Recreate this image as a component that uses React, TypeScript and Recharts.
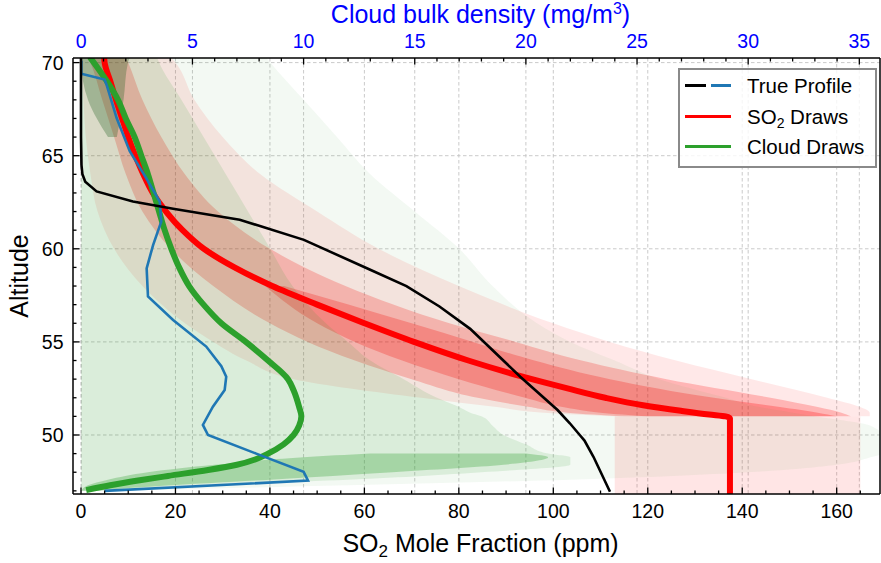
import React from 'react';
import { ComposedChart, Line, Area, XAxis, YAxis, CartesianGrid } from 'recharts';

const FONT = "'Liberation Sans', Arial, Helvetica, sans-serif";

// ticks
const so2Ticks = [0, 5, 10, 15, 20, 25, 30, 35, 40, 45, 50, 55, 60, 65, 70, 75, 80, 85, 90, 95, 100, 105, 110, 115, 120, 125, 130, 135, 140, 145, 150, 155, 160, 165];
const so2Labels = [0, 20, 40, 60, 80, 100, 120, 140, 160];
const cloudTicks = [0, 1, 2, 3, 4, 5, 6, 7, 8, 9, 10, 11, 12, 13, 14, 15, 16, 17, 18, 19, 20, 21, 22, 23, 24, 25, 26, 27, 28, 29, 30, 31, 32, 33, 34, 35];
const cloudLabels = [0, 5, 10, 15, 20, 25, 30, 35];
const altTicks = [47, 48, 49, 50, 51, 52, 53, 54, 55, 56, 57, 58, 59, 60, 61, 62, 63, 64, 65, 66, 67, 68, 69, 70];
const altLabels = [50, 55, 60, 65, 70];

// true SO2 profile (ppm)
const trueSo2Alt = [70.3, 66, 64.5, 64.0, 63.6, 63.08, 62.54, 62.15, 61.56, 60.48, 58.9, 58.0, 56.9, 55.7, 53.13, 51.34, 50.63, 50.0, 49.7, 48.83, 46.95];
const trueSo2 = [0, 0, 0.1, 0.3, 0.9, 3.3, 11, 19.5, 33.6, 47.2, 61, 68.9, 75.9, 82.4, 93, 100.9, 103.5, 105.6, 106.6, 108.5, 112];

// true cloud profile (mg/m3)
const trueCloudAlt = [70.1, 69.4, 69.09, 68.8, 67.02, 65.24, 63.8, 62.54, 61.47, 60.2, 58.95, 57.44, 56.18, 54.75, 53.7, 53.13, 52.42, 51.52, 50.54, 50.0, 49.0, 48.03, 47.55, 47.0];
const trueCloud = [0, 0, 1.05, 1.14, 1.59, 2.18, 2.92, 3.53, 3.6, 3.23, 2.94, 3.0, 4.13, 5.62, 6.3, 6.52, 6.45, 5.92, 5.47, 5.7, 7.87, 10.0, 10.2, 1.05];

// median of SO2 draws
const so2MedAlt = [70.3, 70, 69, 68, 67, 66, 65, 64, 63, 62, 61, 60, 59, 58, 57, 56, 55, 54, 53.13, 52.5, 52.0, 51.6, 51.3, 51.1, 51.0, 50.9, 46.7];
const so2Med = [4.9, 5.0, 6.2, 7.4, 8.7, 10.0, 11.5, 13.2, 15.2, 18.0, 21.5, 26.0, 32.5, 40.5, 50.0, 60.0, 70.5, 82.0, 93.5, 103, 111, 119, 127, 133, 136.5, 137.4, 137.4];

// median of cloud draws
const cloudMedAlt = [70.3, 69, 68, 67, 66, 65, 64, 63, 62, 61, 60, 59, 58, 57, 56, 55, 54, 53, 52.4, 51.5, 51.0, 50.5, 50.0, 49.5, 49.0, 48.7, 48.4, 48.12, 47.8, 47.58, 47.3, 47.04];
const cloudMed = [0.38, 1.15, 1.65, 2.0, 2.4, 2.7, 3.0, 3.25, 3.5, 3.75, 4.05, 4.4, 4.85, 5.5, 6.3, 7.4, 8.4, 9.3, 9.55, 9.8, 9.9, 9.8, 9.55, 9.1, 8.4, 7.85, 7.0, 5.7, 3.9, 2.7, 1.3, 0.22];

// envelopes of the draws, read at these altitudes
const bandAlt = [46.7, 47.0, 47.3, 47.6, 48.0, 48.4, 48.8, 49.0, 49.5, 50.0, 50.5, 51.0, 51.2, 51.5, 52, 53, 54, 55, 56, 58, 60, 62, 64, 66, 68, 70, 70.3];
const N = null;
const redFanLo = [N, N, N, N, N, N, N, N, N, N, N, 113, 98, 88, 72, 45, 35, 28, 22, 13, 7, 3.5, 2, 1, 0.5, 0, 0];
const redFanHi = [N, N, N, N, N, N, N, N, N, N, N, 167, 167, 165, 158, 142, 126, 112, 100, 80, 63, 50, 38, 30, 24, 20, 19];
const redCoreLo = [N, N, N, N, N, N, N, N, N, N, N, 115, 103, 95, 84, 70, 58, 48, 40, 28, 19, 13, 9.5, 7, 4.5, 2, 1.5];
const redCoreHi = [N, N, N, N, N, N, N, N, N, N, N, 163, 161, 156, 146, 124, 106, 92, 78, 56, 40, 29, 22, 17, 13, 10, 9.5];
const redInnerLo = [N, N, N, N, N, N, N, N, N, N, N, 120, 110, 102, 94, 80, 68, 58, 50, 39, N, N, N, N, N, N, N];
const redInnerHi = [N, N, N, N, N, N, N, N, N, N, N, 160, 156, 148, 134, 112, 96, 83, 70, 43, N, N, N, N, N, N, N];
const redDropLo = [113, 113, 113, 113, 113, 113, 113, 113, 113, 113, 113, 113, N, N, N, N, N, N, N, N, N, N, N, N, N, N, N];
const redDropHi = [165, 165, 165, 165, 165, 165, 165, 165, 165, 165, 165, 165, N, N, N, N, N, N, N, N, N, N, N, N, N, N, N];
const greenOuterHi = [N, 1, 12, 22, 30, 34, 35.5, 36, 36, 36, 35.5, 33, 32, 30.5, 29, 26, 24, 22, 20.5, 18.5, 17, 15, 13, 11.5, 10, 8.5, 8.3];
const greenMidHi = [N, 0.8, 5, 12, 18, 22, 22, 21, 20, 19, 18.5, 18, 17.5, 17, 16, 14.5, 13, 12, 11, 9.5, 8.5, 7.5, 6.5, 5.5, 4.5, 3.5, 3.4];
const greenSheetLo = [N, 0, 0.3, 1.2, 3, 6, 10, 13, N, N, N, N, N, N, N, N, N, N, N, N, N, N, N, N, N, N, N];
const greenSheetHi = [N, 0.5, 4, 8.5, 14, 19, 21, 20, N, N, N, N, N, N, N, N, N, N, N, N, N, N, N, N, N, N, N];
const greenTopLo = [N, N, N, N, N, N, N, N, N, N, N, N, N, N, N, N, N, N, N, N, N, N, N, 1.2, 0.3, 0, 0];
const greenTopHi = [N, N, N, N, N, N, N, N, N, N, N, N, N, N, N, N, N, N, N, N, N, N, N, 1.6, 1.9, 2.1, 2.2];

const pair = (lo: number | null, hi: number | null) => (lo == null || hi == null ? null : [lo, hi]);

const bandData = bandAlt.map((alt, i) => ({
  alt,
  redFan: pair(redFanLo[i], redFanHi[i]),
  redCore: pair(redCoreLo[i], redCoreHi[i]),
  redInner: pair(redInnerLo[i], redInnerHi[i]),
  redDrop: pair(redDropLo[i], redDropHi[i]),
  greenOuter: pair(greenOuterHi[i] == null ? null : 0, greenOuterHi[i]),
  greenMid: pair(greenMidHi[i] == null ? null : 0, greenMidHi[i]),
  greenSheet: pair(greenSheetLo[i], greenSheetHi[i]),
  greenTop: pair(greenTopLo[i], greenTopHi[i]),
}));

const toRows = (alts: number[], vals: number[], key: string) => alts.map((alt, i) => ({ alt, [key]: vals[i] }));
const trueSo2Data = toRows(trueSo2Alt, trueSo2, 'so2');
const trueCloudData = toRows(trueCloudAlt, trueCloud, 'cloud');
const so2MedData = toRows(so2MedAlt, so2Med, 'so2');
const cloudMedData = toRows(cloudMedAlt, cloudMed, 'cloud');

const MAJOR = 6.5;
const MINOR = 3.5;

function BottomTick({ x, y, payload }: any) {
  const major = so2Labels.includes(payload.value);
  return (
    <g>
      <line x1={x} x2={x} y1={y} y2={y - (major ? MAJOR : MINOR)} stroke="#000" strokeWidth={1.3} />
      {major && (
        <text x={x} y={y + 24.3} textAnchor="middle" fontSize={19.5} fontFamily={FONT} fill="#000">
          {payload.value}
        </text>
      )}
    </g>
  );
}

function TopTick({ x, y, payload }: any) {
  const major = cloudLabels.includes(payload.value);
  return (
    <g>
      <line x1={x} x2={x} y1={y} y2={y + (major ? MAJOR : MINOR)} stroke="#000" strokeWidth={1.3} />
      {major && (
        <text x={x} y={y - 10.3} textAnchor="middle" fontSize={19.5} fontFamily={FONT} fill="#0000ff">
          {payload.value}
        </text>
      )}
    </g>
  );
}

function LeftTick({ x, y, payload }: any) {
  const major = altLabels.includes(payload.value);
  return (
    <g>
      <line x1={x} x2={x + (major ? MAJOR : MINOR)} y1={y} y2={y} stroke="#000" strokeWidth={1.3} />
      {major && (
        <text x={x - 9.5} y={y + 7} textAnchor="end" fontSize={19.5} fontFamily={FONT} fill="#000">
          {payload.value}
        </text>
      )}
    </g>
  );
}

const scaleOf = (axis: any) => (v: number) => {
  const s = axis?.scale;
  if (!s) return NaN;
  return typeof s === 'function' ? s(v) : s.map(v);
};

function BottomTitle({ viewBox }: any) {
  const { x, y, width } = viewBox;
  return (
    <text x={x + width / 2 + 4} y={y + 57.7} textAnchor="middle" fontSize={25} fontFamily={FONT} fill="#000">
      SO<tspan fontSize={17} dy={5}>2</tspan>
      <tspan dy={-5}> Mole Fraction (ppm)</tspan>
    </text>
  );
}

function TopTitle({ viewBox }: any) {
  const { x, y, width, height } = viewBox;
  return (
    <text x={x + width / 2 + 4} y={y + height - 35.3} textAnchor="middle" fontSize={25} fontFamily={FONT} fill="#0000ff">
      Cloud bulk density (mg/m<tspan fontSize={16} dy={-9}>3</tspan>
      <tspan dy={9}>)</tspan>
    </text>
  );
}

function LeftTitle({ viewBox }: any) {
  const { y, height } = viewBox;
  const cy = y + height / 2;
  return (
    <text transform={`translate(28, ${cy}) rotate(-90)`} textAnchor="middle" fontSize={25} fontFamily={FONT} fill="#000">
      Altitude
    </text>
  );
}

function LegendBox() {
  const row = (top: number, samples: React.ReactNode, label: React.ReactNode) => (
    <div style={{ position: 'absolute', left: 0, top, width: '100%', height: 0 }}>
      {samples}
      <span style={{ position: 'absolute', left: 67, top: -12, whiteSpace: 'nowrap', lineHeight: '24px' }}>{label}</span>
    </div>
  );
  const seg = (left: number, width: number, color: string) => (
    <div style={{ position: 'absolute', left, top: -1.5, width, height: 3, background: color }} />
  );
  return (
    <div
      style={{
        position: 'absolute',
        left: 678,
        top: 68,
        width: 199,
        height: 100,
        boxSizing: 'border-box',
        border: '2px solid #8a8a8a',
        background: 'rgba(255,255,255,0.8)',
        fontFamily: FONT,
        fontSize: 20.5,
        color: '#000',
      }}
    >
      {row(15.7, <>{seg(5, 21, '#000')}{seg(31, 20, '#1f77b4')}</>, 'True Profile')}
      {row(46.7, seg(5, 46, '#ff0000'), <>SO<sub style={{ fontSize: 14, verticalAlign: '-4px' }}>2</sub> Draws</>)}
      {row(76.7, seg(5, 46, '#2ca02c'), 'Cloud Draws')}
    </div>
  );
}

export default function App() {
  return (
    <div style={{ position: 'absolute', left: 0, top: 0, width: 881, height: 563, background: '#fff' }}>
      <ComposedChart
        width={881}
        height={563}
        data={bandData}
        layout="vertical"
        margin={{ top: 0, right: 0, bottom: 0, left: 0 }}
      >
        <CartesianGrid
          xAxisId="so2"
          stroke="#c4c4c4"
          strokeDasharray="3.5 2.5"
          strokeWidth={0.9}
          verticalCoordinatesGenerator={({ xAxis }: any) => so2Labels.map(scaleOf(xAxis))}
          horizontalCoordinatesGenerator={({ yAxis }: any) => altLabels.map(scaleOf(yAxis))}
        />
        <CartesianGrid
          xAxisId="cloud"
          horizontal={false}
          stroke="#c4c4c4"
          strokeDasharray="3.5 2.5"
          strokeWidth={0.9}
          verticalCoordinatesGenerator={({ xAxis }: any) => cloudLabels.map(scaleOf(xAxis))}
        />
        <XAxis
          xAxisId="so2"
          type="number"
          orientation="bottom"
          domain={[-1.694, 169.17]}
          allowDataOverflow
          ticks={so2Ticks}
          interval={0}
          height={69}
          tickSize={0}
          tickMargin={0}
          tickLine={false}
          axisLine={{ stroke: '#000', strokeWidth: 1.5 }}
          tick={<BottomTick />}
          label={{ content: (p: any) => <BottomTitle viewBox={p.viewBox} /> }}
        />
        <XAxis
          xAxisId="cloud"
          type="number"
          orientation="top"
          domain={[-0.373, 35.93]}
          allowDataOverflow
          ticks={cloudTicks}
          interval={0}
          height={58}
          tickSize={0}
          tickMargin={0}
          tickLine={false}
          axisLine={{ stroke: '#000', strokeWidth: 1.5 }}
          tick={<TopTick />}
          label={{ content: (p: any) => <TopTitle viewBox={p.viewBox} /> }}
        />
        <YAxis
          type="number"
          dataKey="alt"
          domain={[46.831, 70.247]}
          reversed
          allowDataOverflow
          ticks={altTicks}
          interval={0}
          width={73}
          tickSize={0}
          tickMargin={0}
          tickLine={false}
          axisLine={{ stroke: '#000', strokeWidth: 1.5 }}
          tick={<LeftTick />}
          label={{ content: (p: any) => <LeftTitle viewBox={p.viewBox} /> }}
        />
        <YAxis
          yAxisId="right"
          orientation="right"
          type="number"
          domain={[46.831, 70.247]}
          reversed
          width={1}
          tick={false}
          tickLine={false}
          axisLine={{ stroke: '#000', strokeWidth: 1.5 }}
        />

        <Area xAxisId="so2" dataKey="redDrop" type="linear" stroke="none" fill="#ff0000" fillOpacity={0.1} isAnimationActive={false} activeDot={false} />
        <Area xAxisId="so2" dataKey="redFan" type="monotone" stroke="none" fill="#ff0000" fillOpacity={0.09} isAnimationActive={false} activeDot={false} />
        <Area xAxisId="so2" dataKey="redCore" type="monotone" stroke="none" fill="#ff0000" fillOpacity={0.22} isAnimationActive={false} activeDot={false} />
        <Area xAxisId="so2" dataKey="redInner" type="monotone" stroke="none" fill="#ff0000" fillOpacity={0.25} isAnimationActive={false} activeDot={false} />
        <Area xAxisId="cloud" dataKey="greenOuter" type="monotone" stroke="none" fill="#2ca02c" fillOpacity={0.06} isAnimationActive={false} activeDot={false} />
        <Area xAxisId="cloud" dataKey="greenMid" type="monotone" stroke="none" fill="#2ca02c" fillOpacity={0.12} isAnimationActive={false} activeDot={false} />
        <Area xAxisId="cloud" dataKey="greenSheet" type="monotone" stroke="none" fill="#2ca02c" fillOpacity={0.3} isAnimationActive={false} activeDot={false} />
        <Area xAxisId="cloud" dataKey="greenTop" type="monotone" stroke="none" fill="#1d5e1d" fillOpacity={0.3} isAnimationActive={false} activeDot={false} />

        <Line xAxisId="so2" data={so2MedData} dataKey="so2" type="monotone" stroke="#ff0000" strokeWidth={6} dot={false} activeDot={false} isAnimationActive={false} />
        <Line xAxisId="cloud" data={cloudMedData} dataKey="cloud" type="monotone" stroke="#2ca02c" strokeWidth={6} dot={false} activeDot={false} isAnimationActive={false} />
        <Line xAxisId="cloud" data={trueCloudData} dataKey="cloud" type="linear" stroke="#1f77b4" strokeWidth={2.6} dot={false} activeDot={false} isAnimationActive={false} />
        <Line xAxisId="so2" data={trueSo2Data} dataKey="so2" type="linear" stroke="#000" strokeWidth={2.6} dot={false} activeDot={false} isAnimationActive={false} />
      </ComposedChart>
      <LegendBox />
    </div>
  );
}
